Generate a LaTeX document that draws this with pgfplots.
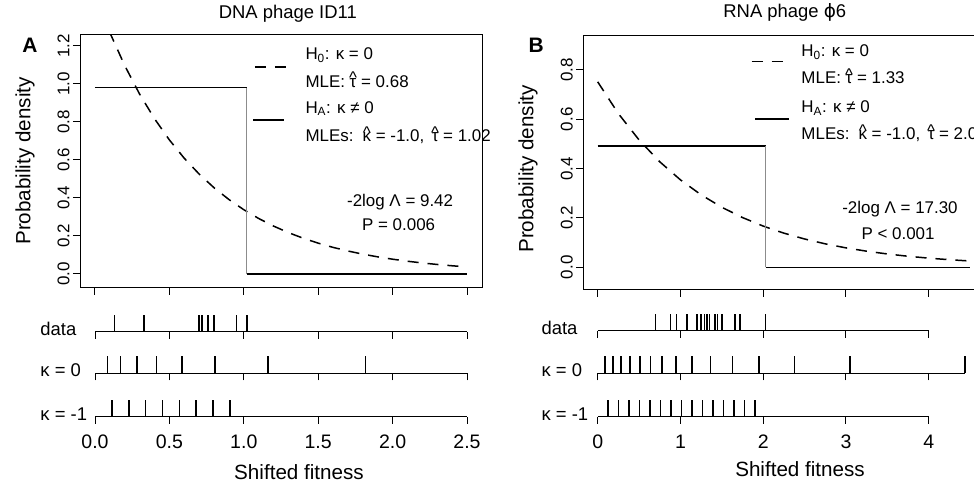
\documentclass[border=0pt]{standalone}
\usepackage{fontspec}
\setmainfont{Liberation Sans}
\newfontfamily\dejavu{DejaVu Sans}
\usepackage{amsmath}
\usepackage{pgfplots}
\pgfplotsset{compat=1.18}

\newcommand\fann{\fontsize{17}{20}\selectfont}
\newcommand\ftit{\fontsize{18.5}{22}\selectfont}
\newcommand\ftick{\fontsize{19.6}{23}\selectfont}
\newcommand\flab{\fontsize{20.7}{24}\selectfont}
% R-style big caret over a letter
\newsavebox\hatbox
\newcommand\hatx[1]{\sbox\hatbox{#1}\makebox[\wd\hatbox]{\raisebox{0.2em}{\textasciicircum}}\kern-\wd\hatbox\usebox\hatbox}
\newcommand\that{\hatx{τ}}
\newcommand\khat{\hatx{κ}}

\tikzset{
  dcurve/.style={line width=1.5bp, dash pattern=on 11bp off 9bp},
  scurve/.style={line width=1.5bp},
  vstep/.style={black!45, line width=1bp},
  lab/.style={anchor=base west, font=\ftit},
  ann/.style={anchor=base west, font=\fann},
  xlab/.style={anchor=base, font=\flab, inner sep=0pt},
}
\pgfplotsset{
  base/.style={scale only axis, anchor=south west, clip mode=individual,
    /pgf/number format/assume math mode=true,
    axis line style={line width=1bp}, tick style={line width=1bp, black},
    tick align=outside, major tick length=7bp,
    tick label style={font=\ftick}, label style={font=\flab}, title style={font=\ftit}},
  dens/.style={base, xtick pos=bottom, ytick pos=left, xticklabels={},
    yticklabel style={rotate=90, anchor=south, font=\fann,
      /pgf/number format/.cd, fixed, fixed zerofill, precision=1},
    ylabel={Probability density}},
  rug/.style={base, height=17bp, ymin=0, ymax=1, clip=false,
    axis y line=none, axis x line*=bottom, axis line style={-},
    xticklabel style={yshift=-8bp}},
  rugl/.style={ycomb, line width=1.5bp, mark=none},
}

\begin{document}
\begin{tikzpicture}

% ---------- A: density ----------
\begin{axis}[dens, at={(80bp,197bp)}, width=402bp, height=253bp,
  xmin=-0.1, xmax=2.6, ymin=-0.0736, ymax=1.256,
  xtick={0,0.5,1,1.5,2,2.5}, ytick={0,0.2,0.4,0.6,0.8,1,1.2},
  ylabel style={at={(axis description cs:-0.137,0.502)}, anchor=center},
  title={DNA phage ID11}, title style={at={(axis description cs:0.517,1.040)}, anchor=base}]
\addplot[dcurve] coordinates {(0,1.4706)(0.1,1.2695)(0.2,1.0959)(0.3,0.9460)(0.4,0.8166)
  (0.5,0.7049)(0.6,0.6085)(0.7,0.5253)(0.8,0.4535)(0.9,0.3915)(1.0,0.3379)(1.1,0.2917)
  (1.2,0.2518)(1.3,0.2174)(1.4,0.1877)(1.5,0.1620)(1.6,0.1398)(1.7,0.1207)(1.8,0.1042)
  (1.9,0.0900)(2.0,0.0777)(2.1,0.0670)(2.2,0.0579)(2.3,0.0500)(2.4,0.0431)(2.5,0.0372)};
\addplot[scurve] coordinates {(0,0.98)(1.02,0.98)};
\addplot[scurve] coordinates {(1.02,0)(2.5,0)};
\addplot[vstep] coordinates {(1.02,0.98)(1.02,0)};
\draw[dcurve] (axis cs:1.075,1.088) -- (axis cs:1.290,1.088);
\draw[scurve] (axis cs:1.062,0.809) -- (axis cs:1.270,0.809);
\node[ann] at (axis cs:1.391,1.125) {H\textsubscript{0}: κ = 0};
\node[ann] at (axis cs:1.391,0.982) {MLE: \that{} = 0.68};
\node[ann] at (axis cs:1.391,0.844) {H\textsubscript{A}: κ ≠ 0};
\node[ann] at (axis cs:1.391,0.694) {MLEs:\, \khat{} = -1.0,\, \that{} = 1.02};
\node[anchor=base, font=\fann] at (axis cs:2.05,0.357) {-2log Λ = 9.42};
\node[anchor=base, font=\fann] at (axis cs:2.04,0.231) {P = 0.006};
\node[anchor=base west, font=\bfseries\fontsize{21}{24}\selectfont] at (axis description cs:-0.152,0.929) {A};
\end{axis}

% ---------- A: rugs ----------
\begin{axis}[rug, at={(95bp,153.3bp)}, width=372bp, xmin=0, xmax=2.5,
  xtick={0,0.5,1,1.5,2,2.5}, xticklabels={}]
\addplot[rugl] coordinates {(0.13,1)(0.33,1)(0.70,1)(0.72,1)(0.76,1)(0.80,1)(0.95,1)(1.02,1)};
\node[lab] at (axis cs:-0.390,-0.2) {data};
\end{axis}
\begin{axis}[rug, at={(95bp,111.7bp)}, width=372bp, xmin=0, xmax=2.5,
  xtick={0,0.5,1,1.5,2,2.5}, xticklabels={}]
\addplot[rugl] coordinates {(0.083,1)(0.173,1)(0.283,1)(0.413,1)(0.585,1)(0.807,1)(1.161,1)(1.818,1)};
\node[lab] at (axis cs:-0.390,-0.2) {κ = 0};
\end{axis}
\begin{axis}[rug, at={(95bp,68.3bp)}, width=372bp, xmin=0, xmax=2.5,
  xtick={0,0.5,1,1.5,2,2.5},
  xticklabel style={/pgf/number format/.cd, fixed, fixed zerofill, precision=1}]
\addplot[rugl] coordinates {(0.113,1)(0.227,1)(0.340,1)(0.453,1)(0.567,1)(0.680,1)(0.793,1)(0.907,1)};
\node[lab] at (axis cs:-0.390,-0.2) {κ = -1};
\node[xlab] at (axis cs:1.371,-3.72) {Shifted fitness};
\end{axis}

% ---------- B: density ----------
\begin{axis}[dens, at={(583.3bp,195bp)}, width=396.7bp, height=254.3bp,
  xmin=-0.174, xmax=4.62, ymin=-0.092, ymax=0.939,
  xtick={0,1,2,3,4}, ytick={0,0.2,0.4,0.6,0.8},
  ylabel style={at={(axis description cs:-0.139,0.476)}, anchor=center},
  title={RNA phage {\dejavu ϕ}6}, title style={at={(axis description cs:0.508,1.050)}, anchor=base}]
\addplot[dcurve] coordinates {(0,0.7519)(0.25,0.6230)(0.5,0.5163)(0.75,0.4278)(1.0,0.3545)
  (1.25,0.2938)(1.5,0.2434)(1.75,0.2017)(2.0,0.1671)(2.25,0.1385)(2.5,0.1148)(2.75,0.0951)
  (3.0,0.0788)(3.25,0.0653)(3.5,0.0541)(3.75,0.0448)(4.0,0.0371)(4.25,0.0308)(4.5,0.0255)};
\addplot[scurve] coordinates {(0,0.4926)(2.03,0.4926)};
\addplot[scurve] coordinates {(2.03,0)(4.5,0)};
\addplot[vstep] coordinates {(2.03,0.4926)(2.03,0)};
\draw[dcurve] (axis cs:1.861,0.834) -- (axis cs:2.243,0.834);
\draw[scurve] (axis cs:1.901,0.601) -- (axis cs:2.315,0.601);
\node[ann] at (axis cs:2.42,0.853) {H\textsubscript{0}: κ = 0};
\node[ann] at (axis cs:2.42,0.745) {MLE: \that{} = 1.33};
\node[ann] at (axis cs:2.42,0.626) {H\textsubscript{A}: κ ≠ 0};
\node[ann] at (axis cs:2.42,0.518) {MLEs:\, \khat{} = -1.0,\, \that{} = 2.03};
\node[anchor=base, font=\fann] at (axis cs:3.653,0.218) {-2log Λ = 17.30};
\node[anchor=base, font=\fann] at (axis cs:3.63,0.111) {P < 0.001};
\node[anchor=base west, font=\bfseries\fontsize{21}{24}\selectfont] at (axis description cs:-0.147,0.932) {B};
\end{axis}

% ---------- B: rugs ----------
\begin{axis}[rug, at={(597.7bp,154.3bp)}, width=331bp, xmin=0, xmax=4,
  xtick={0,1,2,3,4}, xticklabels={}]
\addplot[rugl] coordinates {(0.70,1)(0.88,1)(0.95,1)(1.08,1)(1.20,1)(1.25,1)(1.29,1)(1.32,1)
  (1.35,1)(1.42,1)(1.45,1)(1.50,1)(1.66,1)(1.72,1)(2.03,1)};
\node[lab] at (axis cs:-0.721,-0.2) {data};
\end{axis}
\begin{axis}[rug, at={(597.7bp,111.7bp)}, width=367.4bp, xmin=0, xmax=4.44,
  xtick={0,1,2,3,4}, xticklabels={}]
\addplot[rugl] coordinates {(0.089,1)(0.182,1)(0.283,1)(0.388,1)(0.509,1)(0.638,1)(0.776,1)
  (0.949,1)(1.139,1)(1.362,1)(1.628,1)(1.952,1)(2.376,1)(3.046,1)(4.440,1)};
\node[lab] at (axis cs:-0.721,-0.2) {κ = 0};
\end{axis}
\begin{axis}[rug, at={(597.7bp,68.3bp)}, width=331bp, xmin=0, xmax=4,
  xtick={0,1,2,3,4}]
\addplot[rugl] coordinates {(0.127,1)(0.254,1)(0.381,1)(0.508,1)(0.634,1)(0.761,1)(0.888,1)
  (1.015,1)(1.142,1)(1.269,1)(1.396,1)(1.523,1)(1.649,1)(1.776,1)(1.903,1)};
\node[lab] at (axis cs:-0.721,-0.2) {κ = -1};
\node[xlab] at (axis cs:2.445,-3.53) {Shifted fitness};
\end{axis}

\pgfresetboundingbox
\path[use as bounding box] (0,0) rectangle (974bp,485bp);
\end{tikzpicture}
\end{document}
